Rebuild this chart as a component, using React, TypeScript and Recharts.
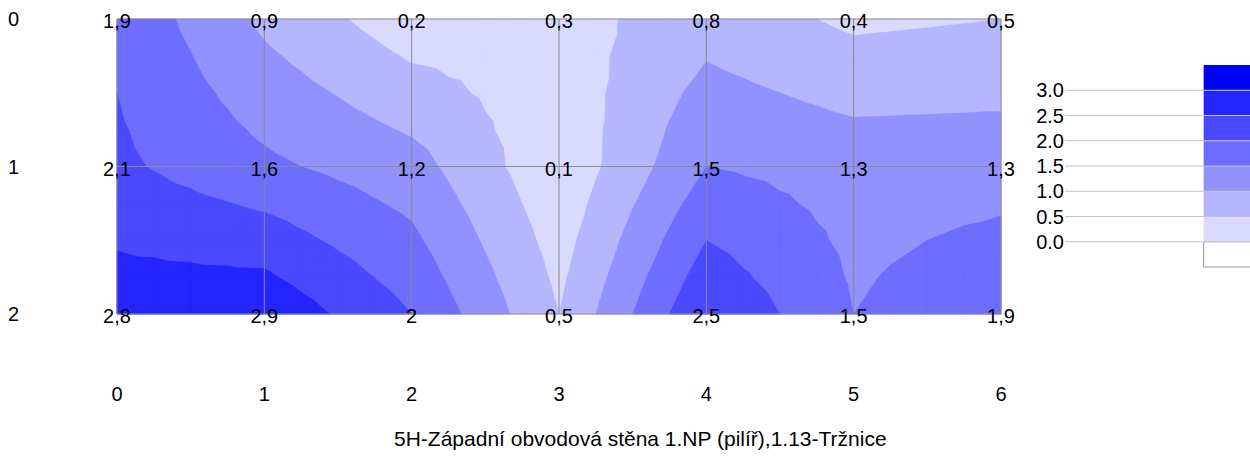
import React from 'react';
import { ComposedChart, Scatter, XAxis, YAxis, CartesianGrid, ReferenceArea, ReferenceLine } from 'recharts';

// measured values, rows = y 0..2, columns = x 0..6
const xTicks = [0, 1, 2, 3, 4, 5, 6];
const yTicks = [0, 1, 2];
const row0 = [1.9, 0.9, 0.2, 0.3, 0.8, 0.4, 0.5];
const row1 = [2.1, 1.6, 1.2, 0.1, 1.5, 1.3, 1.3];
const row2 = [2.8, 2.9, 2.0, 0.5, 2.5, 1.5, 1.9];
const levels = [0, 0.5, 1.0, 1.5, 2.0, 2.5, 3.0];
const bandColors = ['#ffffff', '#dadaff', '#b6b6ff', '#9292ff', '#6d6dff', '#4949ff', '#2424ff', '#0000ff'];
const title = '5H-Západní obvodová stěna 1.NP (pilíř),1.13-Tržnice';

const FONT = '"Liberation Sans", Arial, sans-serif';
const FS = 20;
const grid = [row0, row1, row2];
const SUB = 4;

type P = [number, number, number];

function valueAt(x: number, y: number) {
  const i = Math.min(Math.floor(x), xTicks.length - 2);
  const j = Math.min(Math.floor(y), yTicks.length - 2);
  const fx = x - i, fy = y - j;
  const a = grid[j][i], b = grid[j][i + 1], c = grid[j + 1][i], d = grid[j + 1][i + 1];
  return a * (1 - fx) * (1 - fy) + b * fx * (1 - fy) + c * (1 - fx) * fy + d * fx * fy;
}

function clip(poly: P[], t: number): P[] {
  const out: P[] = [];
  for (let k = 0; k < poly.length; k++) {
    const p = poly[k], q = poly[(k + 1) % poly.length];
    const pin = p[2] >= t, qin = q[2] >= t;
    if (pin) out.push(p);
    if (pin !== qin) {
      const s = (t - p[2]) / (q[2] - p[2]);
      out.push([p[0] + s * (q[0] - p[0]), p[1] + s * (q[1] - p[1]), t]);
    }
  }
  return out;
}

// region where value >= t, as small polygons in data coordinates
function levelPolys(t: number) {
  const polys: P[][] = [];
  const nx = (xTicks.length - 1) * SUB, ny = (yTicks.length - 1) * SUB;
  for (let j = 0; j < ny; j++) {
    for (let i = 0; i < nx; i++) {
      const x0 = i / SUB, x1 = (i + 1) / SUB, y0 = j / SUB, y1 = (j + 1) / SUB;
      const c: P[] = [
        [x0, y0, valueAt(x0, y0)], [x1, y0, valueAt(x1, y0)],
        [x1, y1, valueAt(x1, y1)], [x0, y1, valueAt(x0, y1)],
      ];
      if (c.every(p => p[2] >= t)) { polys.push(c); continue; }
      if (c.every(p => p[2] < t)) continue;
      const tris = [[c[0], c[1], c[3]], [c[1], c[2], c[3]]];
      tris.forEach(tr => {
        const cl = clip(tr, t);
        if (cl.length >= 3) polys.push(cl);
      });
    }
  }
  return polys;
}

const layers = levels.map((t, k) => {
  const polys = levelPolys(t);
  return {
    color: bandColors[k + 1],
    sizes: polys.map(p => p.length),
    points: polys.flat().map(p => ({ x: p[0], y: p[1] })),
  };
}).filter(l => l.points.length > 0);

const labelPoints = yTicks.flatMap((y, j) => xTicks.map((x, i) => ({ x, y, v: grid[j][i] })));
const legendEdges = [-0.5, ...levels, 3.5];
const legendPoints = levels.map(v => ({ x: 0.5, y: v }));

const polyLine = (sizes: number[], color: string) => (props: any) => {
  const pts = props.points || [];
  let d = '';
  let k = 0;
  sizes.forEach(n => {
    for (let i = 0; i < n; i++) {
      const p = pts[k + i];
      if (!p) return;
      d += (i === 0 ? 'M' : 'L') + p.x.toFixed(2) + ',' + p.y.toFixed(2);
    }
    d += 'Z';
    k += n;
  });
  return <path d={d} fill={color} stroke={color} strokeWidth={0.4} />;
};

const XTick = (props: any) => (
  <text x={props.x} y={props.y} textAnchor="middle" dominantBaseline="central" fontSize={FS} fontFamily={FONT} fill="#000">
    {props.payload.value}
  </text>
);
const YTick = (props: any) => (
  <text x={props.x} y={props.y} textAnchor="start" dominantBaseline="central" fontSize={FS} fontFamily={FONT} fill="#000">
    {props.payload.value}
  </text>
);
const LegendTick = (props: any) => (
  <text x={props.x} y={props.y} textAnchor="end" dominantBaseline="central" fontSize={FS} fontFamily={FONT} fill="#000">
    {Number(props.payload.value).toFixed(1)}
  </text>
);

export default function App() {
  return (
    <div style={{ position: 'absolute', left: 0, top: 0, width: 1250, height: 459, overflow: 'hidden', background: '#fff', fontFamily: FONT }}>
      <div style={{ position: 'absolute', left: 0, top: 0 }}>
        <ComposedChart width={1250} height={459} margin={{ top: 19, right: 249, bottom: 115, left: 0 }}>
          <XAxis type="number" dataKey="x" domain={[0, 6]} ticks={xTicks} height={30}
            axisLine={false} tickLine={false} tickSize={0} tickMargin={80} tick={<XTick />} />
          <YAxis type="number" dataKey="y" domain={[0, 2]} ticks={yTicks} reversed width={117}
            axisLine={false} tickLine={false} tickSize={0} tickMargin={109} tick={<YTick />} />
          {layers.map((l, i) => (
            <Scatter key={i} data={l.points} fill={l.color} isAnimationActive={false}
              shape={() => <g />} line={polyLine(l.sizes, l.color)} lineType="joint" legendType="none" />
          ))}
          <CartesianGrid stroke="#8a8a8a" strokeWidth={1} zIndex={1000} />
          <Scatter data={labelPoints} isAnimationActive={false} zIndex={2000} legendType="none"
            shape={(p: any) => (
              <text x={p.cx} y={p.cy + 2} textAnchor="middle" dominantBaseline="central" fontSize={FS} fontFamily={FONT} fill="#000">
                {String(p.payload.v).replace('.', ',')}
              </text>
            )} />
        </ComposedChart>
      </div>
      <div style={{ position: 'absolute', left: 1000, top: 0 }}>
        <ComposedChart width={300} height={459} margin={{ top: 65, right: 0, bottom: 192, left: 0 }}>
          <XAxis type="number" dataKey="x" domain={[0, 1]} hide />
          <YAxis type="number" dataKey="y" domain={[-0.5, 3.5]} ticks={levels} width={65}
            axisLine={false} tickLine={false} tickSize={0} tickMargin={1} tick={<LegendTick />} />
          {levels.map(v => (
            <ReferenceLine key={v} y={v} stroke="#c4c4c4" strokeWidth={1} />
          ))}
          <Scatter data={legendPoints} isAnimationActive={false} shape={() => <g />} legendType="none" />
          {legendEdges.slice(0, -1).map((lo, k) => (
            <ReferenceArea key={k} x1={0.59} x2={1} y1={lo} y2={legendEdges[k + 1]}
              fill={bandColors[k]} fillOpacity={1} stroke={k === 0 ? '#9a9a9a' : 'none'} ifOverflow="visible" />
          ))}
        </ComposedChart>
      </div>
      <div style={{ position: 'absolute', left: 394, top: 427, fontSize: 21, lineHeight: '24px', color: '#000', whiteSpace: 'nowrap' }}>
        {title}
      </div>
    </div>
  );
}
